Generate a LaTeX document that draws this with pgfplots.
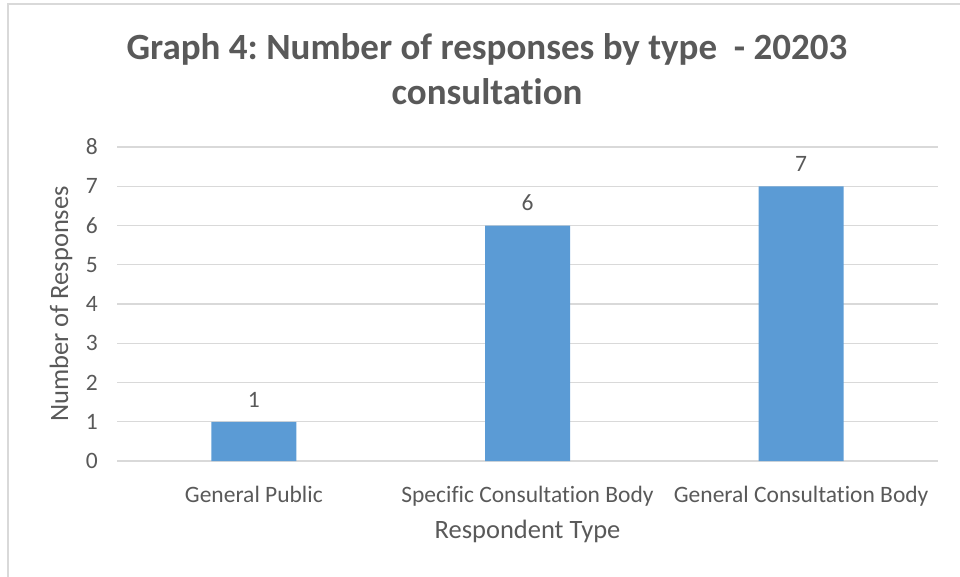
\documentclass[border=0pt]{standalone}
\usepackage{fontspec}
\setmainfont{Carlito}[RawFeature={-liga;-clig;-dlig;-calt}]
\usepackage{pgfplots}
\pgfplotsset{compat=1.18}

\definecolor{barblue}{HTML}{5B9BD5}
\definecolor{txtgray}{HTML}{595959}
\definecolor{gridgray}{HTML}{D9D9D9}

\pgfplotstableread{
x count
0 1
1 6
2 7
}\responses

\begin{document}
\frenchspacing
\begin{tikzpicture}
% page area and chart frame
\path[use as bounding box] (0pt,0pt) rectangle (960pt,-577pt);
\draw[gridgray, line width=1.3pt] (8pt,-577pt) -- (8pt,-4pt) -- (960pt,-4pt);

\node[align=center, text=txtgray, font=\fontsize{37}{45}\selectfont\bfseries]
  at (487pt,-69pt) {Graph 4: Number of responses by type~~- 20203\\consultation};

\begin{axis}[
  at={(117pt,-461pt)}, anchor=south west,
  scale only axis, width=821pt, height=314pt,
  xmin=-0.5, xmax=2.5, ymin=0, ymax=8,
  ytick={0,1,...,8},
  xtick=data,
  xticklabels={General Public, Specific Consultation Body, General Consultation Body},
  axis line style={draw=none},
  tick style={draw=none},
  ymajorgrids,
  major grid style={gridgray, line width=1.3pt},
  clip=false,
  ybar, bar width=85pt,
  /pgf/number format/assume math mode=true,
  ticklabel style={text=txtgray, font=\fontsize{23.5}{28}\selectfont},
  yticklabel style={anchor=east, xshift=-19pt, inner sep=0pt},
  xticklabel style={anchor=base, yshift=-37pt, inner sep=0pt},
  xlabel={Respondent Type},
  ylabel={Number of Responses},
  label style={text=txtgray, font=\fontsize{26.5}{30}\selectfont},
  xlabel style={at={(axis description cs:0.5,-0.223)}, anchor=center},
  ylabel style={at={(axis description cs:-0.068,0.5)}, anchor=center},
  nodes near coords,
  every node near coord/.append style={text=txtgray, font=\fontsize{23.5}{28}\selectfont, yshift=11pt},
]
\addplot[fill=barblue, draw=none] table[x=x, y=count] {\responses};
\end{axis}
\end{tikzpicture}
\end{document}
